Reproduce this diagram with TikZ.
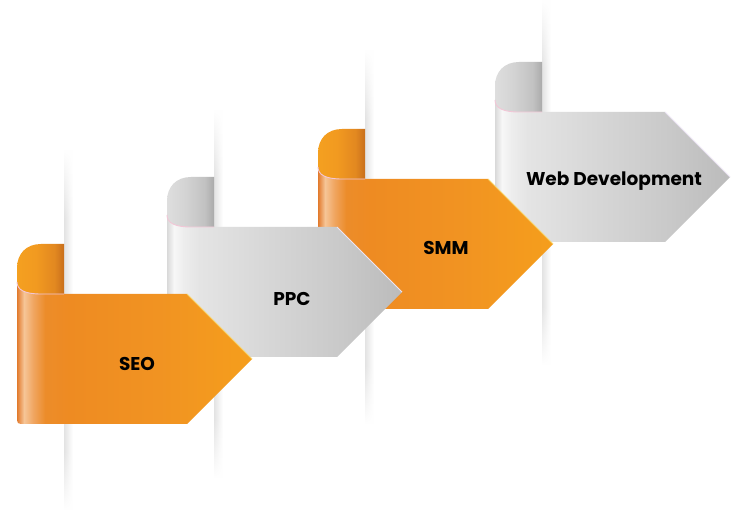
\documentclass[tikz,border=0pt]{standalone}
\usepackage{fontspec}
\setmainfont{Poppins}
\usetikzlibrary{fadings}
\definecolor{ob0}{HTML}{E27A2C}
\definecolor{ob1}{HTML}{F6C597}
\definecolor{ob2}{HTML}{F0A560}
\definecolor{ob3}{HTML}{EC8C2A}
\definecolor{ob4}{HTML}{EE8B22}
\definecolor{ob5}{HTML}{F19322}
\definecolor{ob6}{HTML}{F59E1C}
\definecolor{gb0}{HTML}{D9D9D9}
\definecolor{gb1}{HTML}{F7F7F7}
\definecolor{gb2}{HTML}{EDEDED}
\definecolor{gb3}{HTML}{E4E4E4}
\definecolor{gb4}{HTML}{D8D8D8}
\definecolor{gb5}{HTML}{C9C9C9}
\definecolor{gb6}{HTML}{BBBBBB}
\definecolor{ot0}{HTML}{F4A020}
\definecolor{ot1}{HTML}{F29A20}
\definecolor{ot2}{HTML}{E28820}
\definecolor{ot3}{HTML}{C86F1C}
\definecolor{gt0}{HTML}{DEDEDE}
\definecolor{gt1}{HTML}{D3D3D3}
\definecolor{gt2}{HTML}{C2C2C2}
\definecolor{gt3}{HTML}{ABABAB}
\definecolor{polegray}{HTML}{E3E3E3}
\definecolor{pinkedge}{HTML}{F2C6D6}
\definecolor{lavedge}{HTML}{ECE4F4}
\definecolor{yeledge}{HTML}{F8D46A}
\pgfdeclarehorizontalshading{orangebody}{100bp}{color(0bp)=(ob0); color(25bp)=(ob0); color(26.5bp)=(ob1); color(28.5bp)=(ob2); color(31bp)=(ob3); color(36bp)=(ob4); color(55bp)=(ob5); color(75bp)=(ob6); color(100bp)=(ob6)}
\pgfdeclarehorizontalshading{graybody}{100bp}{color(0bp)=(gb0); color(25bp)=(gb0); color(26.5bp)=(gb1); color(28.5bp)=(gb2); color(32bp)=(gb3); color(45bp)=(gb4); color(62bp)=(gb5); color(75bp)=(gb6); color(100bp)=(gb6)}
\pgfdeclarehorizontalshading{orangetab}{100bp}{color(0bp)=(ot0); color(25bp)=(ot0); color(45bp)=(ot1); color(65bp)=(ot2); color(75bp)=(ot3); color(100bp)=(ot3)}
\pgfdeclarehorizontalshading{graytab}{100bp}{color(0bp)=(gt0); color(25bp)=(gt0); color(45bp)=(gt1); color(65bp)=(gt2); color(75bp)=(gt3); color(100bp)=(gt3)}
\tikzset{
  pinkline/.style={draw=pinkedge, line width=0.9pt},
  label/.style={font=\bfseries\fontsize{18.5}{21}\selectfont, text=black, inner sep=0pt},
}
% #1 x of pole edge, #2 top, #3 bottom
\newcommand\mypole[3]{%
  \shade[left color=polegray, right color=white, path fading=north] (#1,#2) rectangle ({#1+9},{#2+70});
  \shade[left color=polegray, right color=white] (#1,{#2+70}) rectangle ({#1+9},{#3-60});
  \shade[left color=polegray, right color=white, path fading=south] (#1,{#3-60}) rectangle ({#1+9},#3);
}
% #1 L, #2 T, #3 body shading, #4 tab shading, #5 edge colour
\newcommand\myribbon[5]{%
  \begin{scope}[shift={(#1,#2)}]
    \shade[shading=#4] (0,0) -- (0,-26) .. controls (0,-40) and (9,-50) .. (24,-50) -- (47,-50) -- (47,0) -- cycle;
    \shade[shading=#3] (0,-12) .. controls (0,-4) and (8,0) .. (24,0) -- (170,0) -- (235,65) -- (170,130) -- (8,130) .. controls (0,130) .. (0,122) -- cycle;
    \draw[pinkline] (0,-12) .. controls (0,-4) and (8,0) .. (24,0) -- (47,0);
    \draw[draw=#5, line width=0.8pt] (170,0) -- (235,65);
  \end{scope}}
\begin{document}
\begin{tikzpicture}[x=1pt, y=-1pt]
  \useasboundingbox (0,0) rectangle (745,521);
  \fill[white] (0,0) rectangle (745,521);
  % poles
  \mypole{64}{150}{510}
  \mypole{214}{110}{478}
  \mypole{365}{50}{424}
  \mypole{542}{0}{365}
  % ribbons, back to front
  \myribbon{495}{112}{graybody}{graytab}{lavedge}
  \myribbon{318}{179}{orangebody}{orangetab}{yeledge}
  \myribbon{167}{227}{graybody}{graytab}{lavedge}
  \myribbon{17}{294}{orangebody}{orangetab}{yeledge}
  % labels
  \node[label] (web) at (614,181) {Web Development};
  \node[label] (smm) at (446,248) {SMM};
  \node[label] (ppc) at (292,299) {PPC};
  \node[label] (seo) at (137,364) {SEO};
\end{tikzpicture}
\end{document}
